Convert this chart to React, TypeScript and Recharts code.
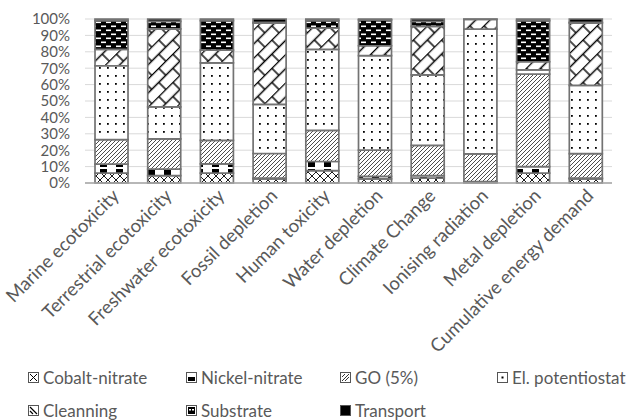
import React from 'react';
import { BarChart, Bar, XAxis, YAxis, CartesianGrid } from 'recharts';

const CATEGORIES = [
  'Marine ecotoxicity',
  'Terrestrial ecotoxicity',
  'Freshwater ecotoxicity',
  'Fossil depletion',
  'Human toxicity',
  'Water depletion',
  'Climate Change',
  'Ionising radiation',
  'Metal depletion',
  'Cumulative energy demand',
];
const COBALT = [6, 4.5, 6, 2.5, 7.5, 2.5, 3, 0.5, 6, 2.5];
const NICKEL = [5.5, 4, 5.7, 0.5, 5.6, 1.5, 1.5, 0.3, 4, 0.5];
const GO = [15, 18.4, 14.3, 15, 19, 16, 18.4, 17, 56.3, 15];
const EL = [45, 19.4, 47.4, 30, 49.4, 57.7, 43, 76, 2.5, 41.7];
const CLEAN = [10, 47.5, 7.8, 49.5, 13, 6, 29.6, 6, 5, 38];
const SUBSTRATE = [17.5, 4.5, 18, 0.5, 4.5, 15.8, 3, 0, 25, 0.5];
const TRANSPORT = [1, 1.5, 1, 2, 1, 0.5, 1.5, 0.2, 1, 2];

const Y_TICKS = [0, 0.1, 0.2, 0.3, 0.4, 0.5, 0.6, 0.7, 0.8, 0.9, 1];

const SERIES_NAMES = [
  'Cobalt-nitrate',
  'Nickel-nitrate',
  'GO (5%)',
  'El. potentiostat',
  'Cleanning',
  'Substrate',
  'Transport',
];

const data = CATEGORIES.map((name, i) => ({
  name,
  cobalt: COBALT[i],
  nickel: NICKEL[i],
  go: GO[i],
  el: EL[i],
  clean: CLEAN[i],
  substrate: SUBSTRATE[i],
  transport: TRANSPORT[i],
}));

const FONT = 'Lato, "Open Sans", sans-serif';
const TEXT = '#595959';
const EDGE = '#737373';

const XTick = (props: any) => {
  const { x, y, payload } = props;
  const ax = x + 9;
  const ay = y + 14;
  return (
    <text
      x={ax}
      y={ay}
      textAnchor="end"
      transform={`rotate(-45 ${ax} ${ay})`}
      fontSize={18.5}
      fill={TEXT}
      fontFamily={FONT}
    >
      {payload.value}
    </text>
  );
};

const LegendIcon = ({ kind }: { kind: number }) => {
  const inner = (() => {
    switch (kind) {
      case 0:
        return <path d="M2 2 L9 9 M9 2 L2 9" stroke="#000" strokeWidth={1} />;
      case 1:
        return <rect x={2} y={5} width={7} height={4} fill="#000" />;
      case 2:
        return <path d="M2 9 L9 2 M2 5 L5 2 M5 9 L9 5" stroke="#000" strokeWidth={0.8} />;
      case 3:
        return <rect x={4.5} y={4.5} width={2} height={2} fill="#000" />;
      case 4:
        return <path d="M2 2 L9 9 M2 6 L5 9" stroke="#000" strokeWidth={1.2} />;
      case 5:
        return (
          <g>
            <rect x={2} y={2} width={7} height={7} fill="#000" />
            <rect x={3} y={4} width={2} height={1.5} fill="#fff" />
            <rect x={6} y={4} width={2} height={1.5} fill="#fff" />
          </g>
        );
      default:
        return <rect x={1} y={1} width={9} height={9} fill="#000" />;
    }
  })();
  return (
    <svg width={11} height={11} style={{ display: 'block' }}>
      <rect x={0.5} y={0.5} width={10} height={10} fill="#fff" stroke="#555" strokeWidth={1} />
      {inner}
    </svg>
  );
};

const LEGEND_POS = [
  { x: 28, y: 377 },
  { x: 186, y: 377 },
  { x: 340, y: 377 },
  { x: 497, y: 377 },
  { x: 28, y: 410 },
  { x: 186, y: 410 },
  { x: 340, y: 410 },
];

export default function App() {
  return (
    <div style={{ position: 'absolute', left: 0, top: 0, width: 632, height: 420, background: '#fff' }}>
      <BarChart
        width={632}
        height={420}
        data={data}
        stackOffset="expand"
        margin={{ top: 19, right: 20, left: 0, bottom: 0 }}
        barCategoryGap="19%"
      >
        <defs>
          <pattern id="pCobalt" width={8} height={8} patternUnits="userSpaceOnUse">
            <rect width={8} height={8} fill="#fff" />
            <path d="M0 0 L8 8 M8 0 L0 8" stroke="#000" strokeWidth={0.9} />
          </pattern>
          <pattern id="pNickel" width={16} height={8} patternUnits="userSpaceOnUse">
            <rect width={16} height={8} fill="#fff" />
            <rect x={4} y={1} width={7} height={6} fill="#000" />
          </pattern>
          <pattern id="pGO" width={4} height={4} patternUnits="userSpaceOnUse">
            <rect width={4} height={4} fill="#fff" />
            <path d="M-1 1 L1 -1 M0 4 L4 0 M3 5 L5 3" stroke="#000" strokeWidth={0.7} />
          </pattern>
          <pattern id="pEl" width={8} height={8} patternUnits="userSpaceOnUse">
            <rect width={8} height={8} fill="#fff" />
            <rect x={3} y={3} width={1.8} height={1.8} fill="#000" />
          </pattern>
          <pattern
            id="pClean"
            width={20}
            height={20}
            patternUnits="userSpaceOnUse"
            patternTransform="rotate(-45)"
          >
            <rect width={20} height={20} fill="#fff" />
            <path
              d="M0 0.5 L20 0.5 M0 10.5 L20 10.5 M4 0 L4 10.5 M14 10.5 L14 20"
              stroke="#000"
              strokeWidth={1.4}
            />
          </pattern>
          <pattern id="pSubstrate" width={10} height={8} patternUnits="userSpaceOnUse">
            <rect width={10} height={8} fill="#000" />
            <rect x={1} y={1.5} width={5} height={1.6} fill="#fff" />
            <rect x={6} y={5.5} width={5} height={1.6} fill="#fff" />
            <rect x={-4} y={5.5} width={5} height={1.6} fill="#fff" />
          </pattern>
        </defs>
        <CartesianGrid vertical={false} stroke="#d9d9d9" strokeWidth={1} />
        <XAxis
          dataKey="name"
          interval={0}
          height={237}
          tick={<XTick />}
          tickLine={false}
          tickSize={0}
          tickMargin={0}
          axisLine={{ stroke: '#a6a6a6', strokeWidth: 1.5 }}
        />
        <YAxis
          width={85}
          domain={[0, 1]}
          ticks={Y_TICKS}
          interval={0}
          tickFormatter={(v: number) => `${Math.round(v * 100)}%`}
          tick={{ fontSize: 15, fill: TEXT, fontFamily: FONT }}
          tickLine={false}
          axisLine={false}
          tickSize={0}
          tickMargin={15}
        />
        <Bar dataKey="cobalt" name={SERIES_NAMES[0]} stackId="a" fill="url(#pCobalt)" stroke={EDGE} strokeWidth={1.7} isAnimationActive={false} />
        <Bar dataKey="nickel" name={SERIES_NAMES[1]} stackId="a" fill="url(#pNickel)" stroke={EDGE} strokeWidth={1.7} isAnimationActive={false} />
        <Bar dataKey="go" name={SERIES_NAMES[2]} stackId="a" fill="url(#pGO)" stroke={EDGE} strokeWidth={1.7} isAnimationActive={false} />
        <Bar dataKey="el" name={SERIES_NAMES[3]} stackId="a" fill="url(#pEl)" stroke={EDGE} strokeWidth={1.7} isAnimationActive={false} />
        <Bar dataKey="clean" name={SERIES_NAMES[4]} stackId="a" fill="url(#pClean)" stroke={EDGE} strokeWidth={1.7} isAnimationActive={false} />
        <Bar dataKey="substrate" name={SERIES_NAMES[5]} stackId="a" fill="url(#pSubstrate)" stroke={EDGE} strokeWidth={1.7} isAnimationActive={false} />
        <Bar dataKey="transport" name={SERIES_NAMES[6]} stackId="a" fill="#000" stroke={EDGE} strokeWidth={1.7} isAnimationActive={false} />
      </BarChart>
      {SERIES_NAMES.map((n, i) => (
        <div
          key={n}
          style={{
            position: 'absolute',
            left: LEGEND_POS[i].x,
            top: LEGEND_POS[i].y - 10,
            height: 20,
            display: 'flex',
            alignItems: 'center',
            gap: 4,
            fontFamily: FONT,
            fontSize: 17,
            color: TEXT,
            whiteSpace: 'nowrap',
          }}
        >
          <LegendIcon kind={i} />
          <span>{n}</span>
        </div>
      ))}
    </div>
  );
}
